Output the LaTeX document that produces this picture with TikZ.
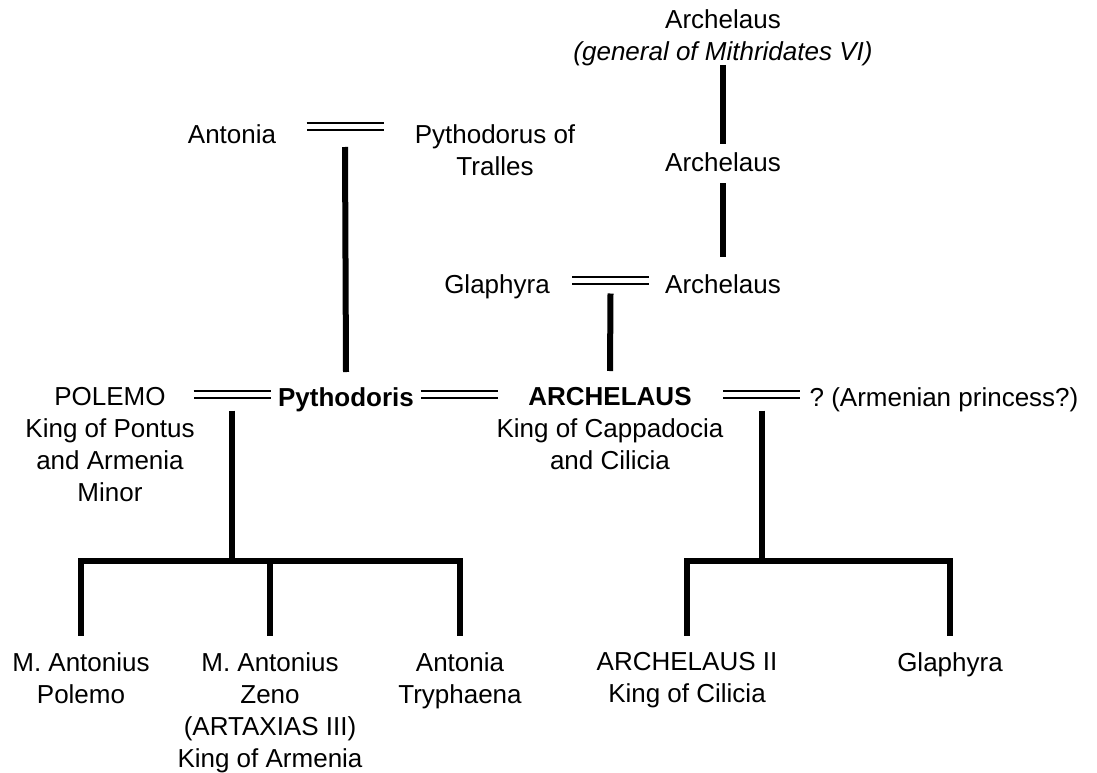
\documentclass[tikz,border=0pt]{standalone}
\usepackage{fontspec}
\setmainfont{Liberation Sans}
\usepackage{tikz}
\usetikzlibrary{calc}

\begin{document}
\frenchspacing
\begin{tikzpicture}[
  x=1pt,y=-1pt,
  person/.style={align=center,inner sep=0pt,anchor=north,font=\fontsize{26}{32}\selectfont},
  marry/.style={double,draw=black,double distance=5.8pt,line width=1.8pt},
  descent/.style={line width=6pt}
]
\useasboundingbox (0,0) rectangle (1097,773);

% ancestors
\node[person] (archgen) at (723,9) {Archelaus\\\textit{(general of Mithridates VI)}};
\node[person] (archson) at (723,152) {Archelaus};
\node[person] (archpriest) at (723,274) {Archelaus};
\node[person] (glaphyraA) at (497,274) {Glaphyra};
\node[person] (antonia) at (232,124) {Antonia};
\node[person] (pythodorus) at (495,124) {Pythodorus of\\Tralles};

% middle generation
\node[person] (polemo) at (110,387) {POLEMO\\King of Pontus\\and Armenia\\Minor};
\node[person] (pythodoris) at (346,387) {\textbf{Pythodoris}};
\node[person] (archking) at (610,387) {\textbf{ARCHELAUS}\\King of Cappadocia\\and Cilicia};
\node[person] (armenian) at (944,387) {? (Armenian princess?)};

% children
\node[person] (mapolemo) at (81,652) {M. Antonius\\Polemo};
\node[person] (zeno) at (270,652) {M. Antonius\\Zeno\\(ARTAXIAS III)\\King of Armenia};
\node[person] (tryphaena) at (460,652) {Antonia\\Tryphaena};
\node[person] (archII) at (687,652) {ARCHELAUS II\\King of Cilicia};
\node[person] (glaphyraB) at (950,652) {Glaphyra};

% marriages
\coordinate (antpyth) at (345,126.5);
\coordinate (glaparch) at (610.5,280.5);
\coordinate (polpyth) at (232,394.5);
\coordinate (pytharch) at (459,394.5);
\coordinate (archarm) at (761.5,394.5);
\foreach \m in {antpyth,glaparch,polpyth,pytharch,archarm}
  \draw[marry] ([xshift=-38.5pt]\m) -- ([xshift=38.5pt]\m);

% comb rails
\coordinate (leftrail) at (232,561);
\coordinate (rightrail) at (761.5,561);

\draw[descent] ([yshift=-56pt]archgen.north) -- ([yshift=8pt]archson.north);
\draw[descent] ([yshift=-31pt]archson.north) -- ([yshift=17pt]archpriest.north);
\draw[descent] ([yshift=-20.5pt]antpyth) -- ([yshift=15pt]pythodoris.north);
\draw[descent] ([yshift=-13pt]glaparch) -- ([yshift=16pt]archking.north);

\draw[descent] ([yshift=-16pt]polpyth) -- (leftrail);
\draw[descent,line cap=rect] (leftrail -| mapolemo) -- (leftrail -| tryphaena);
\foreach \c in {mapolemo,zeno,tryphaena}
  \draw[descent] (leftrail -| \c) -- ([yshift=16pt]\c.north);

\draw[descent] ([yshift=-16pt]archarm) -- (rightrail);
\draw[descent,line cap=rect] (rightrail -| archII) -- (rightrail -| glaphyraB);
\foreach \c in {archII,glaphyraB}
  \draw[descent] (rightrail -| \c) -- ([yshift=16pt]\c.north);
\end{tikzpicture}
\end{document}
